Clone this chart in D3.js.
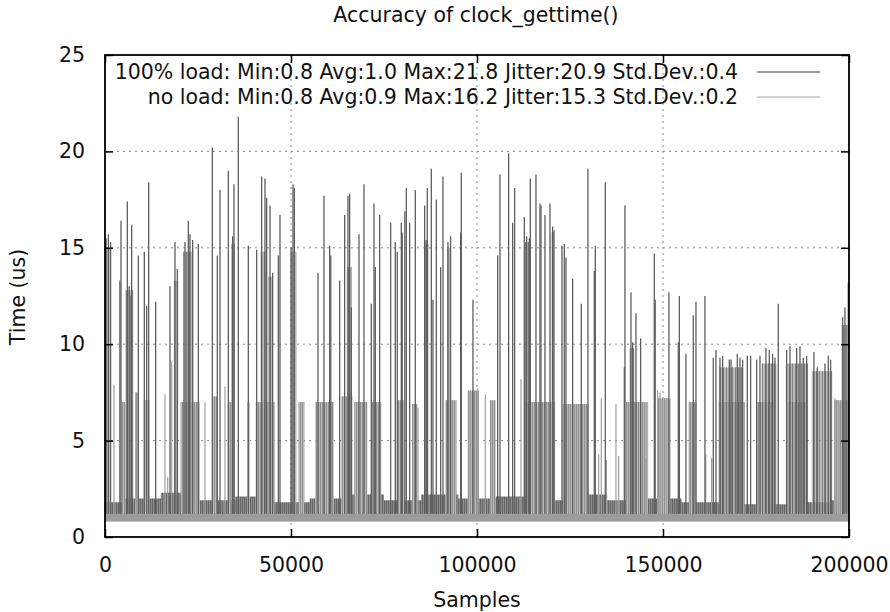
<!DOCTYPE html>
<html>
<head>
<meta charset="utf-8">
<script src="https://cdn.jsdelivr.net/npm/d3@7"></script>
<style>
  body { margin: 0; background: #fff; }
  text { font-family: "DejaVu Sans", sans-serif; fill: #111; }
</style>
</head>
<body>
<div id="chart"></div>
<script>
// tick labels and legend
const xTicks = [0, 50000, 100000, 150000, 200000];
const yTicks = [0, 5, 10, 15, 20, 25];
const seriesNames = [
  "100% load: Min:0.8 Avg:1.0 Max:21.8 Jitter:20.9 Std.Dev.:0.4",
  "no load: Min:0.8 Avg:0.9 Max:16.2 Jitter:15.3 Std.Dev.:0.2"
];

// 100% load: single spikes [sample, us]
const loadSpikes = [
  [300,15.5],[900,15.7],[1500,15.3],[4000,13.3],[4301,16.4],[6003,17.4],[6500,13.0],[7000,12.5],[7168,16.2],
  [8960,14.6],[10573,14.8],[11200,12.0],[11738,18.4],[13619,12.2],[17472,13.0],[18816,15.3],[19443,13.9],
  [21504,15.3],[22400,16.4],[22848,15.7],[23565,15.4],[25088,15.2],[28851,20.2],[30195,14.6],[30912,18.0],
  [33152,19.0],[34317,15.6],[34675,18.3],[35840,21.8],[38528,15.1],[40768,14.9],[42112,18.7],[43008,18.6],
  [43456,17.6],[44352,17.2],[45069,13.7],[46592,14.6],[47040,16.7],
  [50000,15.0],[50534,18.3],[50900,18.1],[57254,13.7],[58867,17.7],[60390,15.1],[60700,14.6],[63078,13.3],
  [64422,16.7],[65318,17.7],[65766,17.8],[66214,11.9],[68275,15.7],[69619,18.3],[71590,12.1],[72307,17.3],
  [72666,14.0],[73830,16.7],[76787,16.3],[78042,15.3],[78579,14.8],[79654,16.3],[79900,15.8],[80600,16.9],
  [80998,18.1],[81894,16.3],[83417,18.0],[85926,17.2],[86300,15.4],[86643,18.1],[87718,19.1],[88166,12.3],
  [89062,17.5],[90227,14.0],[90854,18.7],[92198,15.3],[92900,15.6],[95600,15.8],[95782,18.9],[98918,12.3],
  [105549,14.6],[106176,18.8],[108506,19.9],[109581,16.3],[110118,18.1],[112717,16.6],[113344,15.6],
  [114061,15.5],[114330,18.6],[115853,18.8],[116928,17.3],[117200,17.2],[118272,16.7],[119616,17.3],
  [120334,16.1],[120700,15.9],[122842,15.1],[123469,15.2],[123917,14.5],[125710,13.4],[128038,12.1],
  [129830,19.1],[131533,13.8],[131802,15.1],[134490,18.4],[139600,8.8],[139776,17.2],[141389,12.7],
  [141837,10.1],[142733,11.6],[143987,10.3],[147661,14.7],[147900,12.3],
  [151603,12.7],[154112,10.1],[154400,12.5],[156173,9.5],[158144,11.5],[158861,12.2],[161280,12.5],
  [163520,9.3],[164237,9.7],[165312,9.3],[166029,9.4],[167821,9.2],[168300,9.2],[169971,9.5],[170688,9.3],
  [171405,9.2],[172659,9.4],[173555,9.4],[175168,9.2],[176064,9.4],[177677,9.8],[178573,9.7],[179469,9.5],
  [180096,9.3],[180992,12.1],[183232,9.7],[184128,9.9],[185925,9.8],[186816,9.9],[187711,9.3],[188608,9.4],
  [190579,9.6],[191475,8.8],[193536,9.0],[194432,9.4],[195059,9.2],[198285,11.4],[198912,11.9],[199807,13.2]
];

// 100% load: dense runs of spikes [from, to, us]
const loadBursts = [
  [0,1300,15.0],[5500,7600,12.8],[18500,19700,13.3],[21000,23700,14.8],[34000,34900,15.2],[41800,43500,14.8],
  [43800,45000,13.5],[50000,51500,14.8],[65000,66300,14.0],[85900,87000,15.2],[92000,93000,15.0],
  [112700,114000,15.3],[120000,120700,15.8],[141000,142300,9.8],[165000,171500,8.8],[176500,180500,9.0],
  [183000,189000,9.0],[190000,195500,8.6],[198000,200000,11.0]
];

// no load: single spikes [sample, us]
const noLoadSpikes = [
  [2419,7.9],[8333,7.5],[16128,7.4],[16845,3.1],[17920,9.1],[26880,7.0],[32256,7.8],[74099,7.0],[84134,6.7],
  [100173,7.7],[102234,7.4],[111821,8.2],[132698,4.3],[133414,7.2],[134800,4.0],[137357,6.9],[138074,4.2],
  [145421,4.1],[145600,7.0],[148557,7.6],[149200,7.5],[150976,7.2],[157069,7.0],[161500,4.3],[163072,4.1],
  [196224,7.2],[197299,6.9]
];

// no load: dense runs of spikes [from, to, us]
const noLoadBursts = [
  [4500,5500,7.0],[8100,8900,7.5],[10400,12000,7.1],[20300,25500,7.0],[29000,30200,7.3],[33000,34000,7.0],
  [38200,38900,7.0],[40500,45600,7.0],[52000,53600,7.0],[56500,61500,7.0],[63500,66500,7.3],[67000,70500,7.0],
  [71500,74000,7.0],[78500,80500,7.1],[82500,84000,6.9],[91500,94500,7.1],[97500,100500,7.6],
  [103500,105000,7.1],[113000,121000,7.0],[123000,130000,6.9],[140000,146000,7.0],[148500,152000,7.2],
  [157000,159000,7.0],[165000,172000,7.0],[175000,180000,7.0],[183500,188500,7.0],[196000,200000,7.1]
];

// jitter floor, top of the noise every 10000 samples
const floorSamples = [0,10000,20000,30000,40000,50000,60000,70000,80000,90000,100000,
  110000,120000,130000,140000,150000,160000,170000,180000,190000,200000];
const floorTop = [1.8,2.0,2.3,1.9,2.1,1.8,2.0,2.2,1.9,2.2,2.0,2.1,1.9,2.2,1.9,2.0,1.8,1.7,1.7,1.8,1.9];

const width = 890, height = 612;
const margin = { top: 55, right: 41, bottom: 75, left: 105 };

const svg = d3.select("#chart").append("svg")
  .attr("width", width).attr("height", height);

const defs = svg.append("defs");
function stripes(id, w, bg, fg) {
  const p = defs.append("pattern").attr("id", id)
    .attr("width", w).attr("height", 10).attr("patternUnits", "userSpaceOnUse");
  p.append("rect").attr("width", w).attr("height", 10).attr("fill", bg);
  p.append("rect").attr("width", 1).attr("height", 10).attr("fill", fg);
}
stripes("light", 2, "#bababa", "#909090");
stripes("dark", 3, "#a4a4a4", "#5a5a5a");
stripes("floor", 2, "#8c8c8c", "#666");

const x = d3.scaleLinear().domain([0, 200000]).range([margin.left, width - margin.right]);
const y = d3.scaleLinear().domain([0, 25]).range([height - margin.bottom, margin.top]);

// grid
svg.append("g").selectAll("line").data(yTicks.slice(1, -1)).join("line")
  .attr("x1", x(0)).attr("x2", x(200000)).attr("y1", d => y(d)).attr("y2", d => y(d))
  .attr("stroke", "#8a8a8a").attr("stroke-dasharray", "2,4");
svg.append("g").selectAll("line").data(xTicks.slice(1, -1)).join("line")
  .attr("y1", y(0)).attr("y2", y(25)).attr("x1", d => x(d)).attr("x2", d => x(d))
  .attr("stroke", "#8a8a8a").attr("stroke-dasharray", "2,4");

// jitter floor
svg.append("rect")
  .attr("x", x(0)).attr("width", x(200000) - x(0))
  .attr("y", y(1.3)).attr("height", y(0.8) - y(1.3))
  .attr("fill", "#9c9c9c");
svg.append("path")
  .datum(floorSamples.map((s, i) => [s, floorTop[i]]))
  .attr("fill", "url(#floor)")
  .attr("d", d3.area().x(d => x(d[0])).y0(y(1.2)).y1(d => y(d[1])).curve(d3.curveStep));

// no load
svg.append("g").selectAll("rect").data(noLoadBursts).join("rect")
  .attr("x", d => x(d[0])).attr("width", d => x(d[1]) - x(d[0]))
  .attr("y", d => y(d[2])).attr("height", d => y(1.2) - y(d[2]))
  .attr("fill", "url(#light)");
svg.append("g").selectAll("line").data(noLoadSpikes).join("line")
  .attr("x1", d => x(d[0])).attr("x2", d => x(d[0]))
  .attr("y1", y(1.2)).attr("y2", d => y(d[1]))
  .attr("stroke", "#a0a0a0").attr("stroke-width", 1.2);

// 100% load
svg.append("g").selectAll("rect").data(loadBursts).join("rect")
  .attr("x", d => x(d[0])).attr("width", d => x(d[1]) - x(d[0]))
  .attr("y", d => y(d[2])).attr("height", d => y(1.2) - y(d[2]))
  .attr("fill", "url(#dark)").attr("opacity", 0.75);
svg.append("g").selectAll("line").data(loadSpikes).join("line")
  .attr("x1", d => x(d[0])).attr("x2", d => x(d[0]))
  .attr("y1", y(1.2)).attr("y2", d => y(d[1]))
  .attr("stroke", "#5e5e5e").attr("stroke-width", 1.3);

// axes, ticks inward and mirrored like gnuplot
const fs = "20.5px";
svg.append("g").attr("transform", `translate(${margin.left},0)`)
  .call(d3.axisLeft(y).tickValues(yTicks).tickSize(-8).tickPadding(20))
  .call(g => g.select(".domain").remove())
  .call(g => g.selectAll("text").style("font-size", fs));
svg.append("g").attr("transform", `translate(${width - margin.right},0)`)
  .call(d3.axisRight(y).tickValues(yTicks).tickSize(-8).tickFormat(""))
  .call(g => g.select(".domain").remove());
svg.append("g").attr("transform", `translate(0,${height - margin.bottom})`)
  .call(d3.axisBottom(x).tickValues(xTicks).tickSize(-8).tickPadding(20).tickFormat(d3.format("d")))
  .call(g => g.select(".domain").remove())
  .call(g => g.selectAll("text").style("font-size", fs));
svg.append("g").attr("transform", `translate(0,${margin.top})`)
  .call(d3.axisTop(x).tickValues(xTicks).tickSize(-8).tickFormat(""))
  .call(g => g.select(".domain").remove());
svg.selectAll(".tick line").attr("stroke", "#000").attr("stroke-width", 1.5);

svg.append("rect")
  .attr("x", x(0)).attr("y", y(25))
  .attr("width", x(200000) - x(0)).attr("height", y(0) - y(25))
  .attr("fill", "none").attr("stroke", "#000").attr("stroke-width", 1.8);

// titles
svg.append("text").attr("x", 476).attr("y", 22).attr("text-anchor", "middle")
  .style("font-size", fs).text("Accuracy of clock_gettime()");
svg.append("text").attr("x", x(100000)).attr("y", 607).attr("text-anchor", "middle")
  .style("font-size", fs).text("Samples");
svg.append("text").attr("transform", "translate(25,297) rotate(-90)").attr("text-anchor", "middle")
  .style("font-size", fs).text("Time (us)");

// legend
const legend = svg.append("g");
const legendColors = ["#7a7a7a", "#c4c4c4"];
seriesNames.forEach((name, i) => {
  const cy = 72 + i * 25;
  legend.append("text").attr("x", 738).attr("y", cy).attr("dy", "0.35em")
    .attr("text-anchor", "end").style("font-size", fs).text(name);
  legend.append("line").attr("x1", 757).attr("x2", 820).attr("y1", cy).attr("y2", cy)
    .attr("stroke", legendColors[i]).attr("stroke-width", 1.3);
});
</script>
</body>
</html>
